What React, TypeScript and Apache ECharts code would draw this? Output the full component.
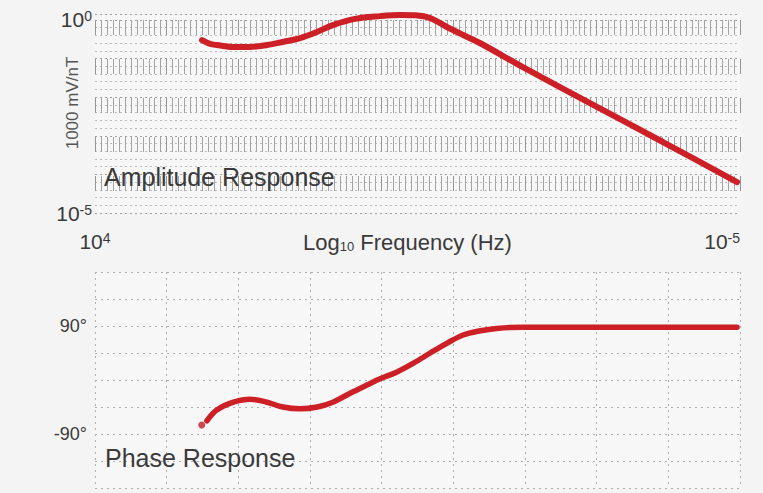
import React, { useEffect, useRef } from "react";
import * as echarts from "echarts";

// Amplitude response (frequency in Hz, amplitude in 1000 mV/nT units)
const ampFreq = [321, 248, 199, 119, 69, 40, 24, 13.8, 8.0, 4.8, 2.35, 1.05, 0.55, 0.34, 0.21, 0.123, 0.073, 0.042, 0.0107, 0.00099, 0.000119, 0.000011];
const ampValue = [0.30, 0.24, 0.224, 0.20, 0.20, 0.224, 0.27, 0.34, 0.49, 0.74, 1.07, 1.26, 1.35, 1.32, 1.12, 0.66, 0.41, 0.25, 0.060, 0.0056, 0.00069, 0.000063];

// Phase response (frequency in Hz, phase in degrees)
const phaseStartFreq = [324];
const phaseStartValue = [-75];
const phaseFreq = [275, 200, 117, 69, 40, 24, 13.8, 7.9, 4.8, 2.75, 1.58, 1.05, 0.62, 0.36, 0.21, 0.12, 0.073, 0.042, 0.025, 0.0107, 0.001, 0.0001, 0.000011];
const phaseValue = [-68, -50, -37, -32, -37, -45, -48, -45, -37, -22, -8, 2, 13, 28, 45, 62, 75, 82, 86, 88, 88, 88, 88];

// Tick labels shown
const freqLabelExps = [4, -5];
const ampLabelExps = [0, -5];
const phaseLabels = [90, -90];

const RED = "#cc1f26";
const TXT = "#3a3a3a";

export default function App() {
  const ref = useRef<HTMLDivElement>(null);
  useEffect(() => {
    document.body.style.margin = "0";
    const chart = echarts.init(ref.current!, undefined, { renderer: "svg" });
    const supRich = {
      a: { fontSize: 21, color: TXT, fontFamily: "Liberation Sans" },
      b: { fontSize: 14, color: TXT, fontFamily: "Liberation Sans", verticalAlign: "top" as const },
    };
    const expFmt = (allowed: number[]) => (v: number) => {
      const e = Math.log10(v);
      const r = Math.round(e);
      if (Math.abs(e - r) > 1e-6 || allowed.indexOf(r) < 0) return "";
      return `{a|10}{b|${r}}`;
    };
    chart.setOption({
      animation: false,
      backgroundColor: "#f4f4f4",
      grid: [
        { left: 95, width: 645, top: 14, height: 199, show: true, backgroundColor: "#f7f7f7", borderWidth: 0 },
        { left: 95, width: 645, top: 272, height: 216, show: true, backgroundColor: "#f7f7f7", borderWidth: 0 },
      ],
      xAxis: [
        {
          type: "log", gridIndex: 0, min: 0.00001, max: 10000, inverse: true, logBase: 10,
          axisLine: { show: false }, axisTick: { show: false }, splitLine: { show: false },
          axisLabel: {
            margin: 18, formatter: expFmt(freqLabelExps), rich: supRich,
            alignMinLabel: "right", alignMaxLabel: "center",
          },
        },
        {
          type: "value", gridIndex: 0, min: -5, max: 4, interval: 1, inverse: true,
          axisLine: { show: false }, axisTick: { show: false }, axisLabel: { show: false },
          splitLine: { show: true, lineStyle: { color: "#959595", width: 1, type: [15, 24], dashOffset: 33 } },
          minorTick: { show: false, splitNumber: 12 },
          minorSplitLine: { show: true, lineStyle: { color: "#a4a4a4", width: 1, type: [15, 24], dashOffset: 33 } },
        },
        {
          type: "log", gridIndex: 1, min: 0.00001, max: 10000, inverse: true, logBase: 10,
          axisLine: { show: false }, axisTick: { show: false }, axisLabel: { show: false },
          splitLine: { show: true, lineStyle: { color: "#b0b0b0", width: 1, type: [2, 4] } },
        },
      ],
      yAxis: [
        {
          type: "log", gridIndex: 0, min: 0.00001, max: 1.43, logBase: 10,
          axisLine: { show: false }, axisTick: { show: false }, splitLine: { show: false },
          axisLabel: { margin: 3, formatter: expFmt(ampLabelExps), rich: supRich, showMaxLabel: false },
        },
        {
          type: "value", gridIndex: 0, min: -5, max: 0.155, interval: 1,
          axisLine: { show: false }, axisTick: { show: false }, axisLabel: { show: false },
          splitLine: { show: true, lineStyle: { color: "#a0a0a0", width: 1, type: [2, 3] } },
          minorTick: { show: false, splitNumber: 5 },
          minorSplitLine: { show: true, lineStyle: { color: "#bdbdbd", width: 1, type: [2, 3] } },
        },
        {
          type: "value", gridIndex: 1, min: -180, max: 180, interval: 45,
          axisLine: { show: false }, axisTick: { show: false },
          splitLine: { show: true, lineStyle: { color: "#b0b0b0", width: 1, type: [2, 4] } },
          axisLabel: {
            margin: 8, fontSize: 18, color: TXT, fontFamily: "Liberation Sans",
            formatter: (v: number) => (phaseLabels.indexOf(v) >= 0 ? `${v}\u00b0` : ""),
          },
        },
      ],
      series: [
        {
          type: "line", xAxisIndex: 0, yAxisIndex: 0, smooth: 0.35, showSymbol: false,
          data: ampFreq.map((f, i) => [f, ampValue[i]]),
          lineStyle: { color: RED, width: 6, cap: "round" }, z: 5,
        },
        {
          type: "line", xAxisIndex: 2, yAxisIndex: 2, smooth: 0.35, showSymbol: false,
          data: phaseFreq.map((f, i) => [f, phaseValue[i]]),
          lineStyle: { color: RED, width: 5.5, cap: "round" }, z: 5,
        },
        {
          type: "scatter", xAxisIndex: 2, yAxisIndex: 2, symbolSize: 7,
          data: phaseStartFreq.map((f, i) => [f, phaseStartValue[i]]),
          itemStyle: { color: "#c01a22" }, z: 5,
        },
      ],
      graphic: [
        {
          type: "text", left: 104, top: 164, z: 10,
          style: { text: "Amplitude Response", font: "25px 'Liberation Sans'", fill: TXT },
        },
        {
          type: "text", left: 105, top: 445, z: 10,
          style: { text: "Phase Response", font: "25px 'Liberation Sans'", fill: TXT },
        },
        {
          type: "text", x: 72, y: 103, rotation: Math.PI / 2, z: 10,
          style: {
            text: "1000 mV/nT", font: "17px 'Liberation Sans'", fill: "#555",
            align: "center", verticalAlign: "middle",
          },
        },
        {
          type: "text", left: 303, top: 231, z: 10,
          style: {
            text: "{a|Log}{b|10}{a| Frequency (Hz)}",
            rich: {
              a: { fontSize: 22, fill: TXT, fontFamily: "Liberation Sans" },
              b: { fontSize: 13, fill: TXT, fontFamily: "Liberation Sans", verticalAlign: "bottom" },
            },
          },
        },
      ],
    });
    return () => chart.dispose();
  }, []);
  return <div ref={ref} style={{ width: 763, height: 493 }} />;
}
